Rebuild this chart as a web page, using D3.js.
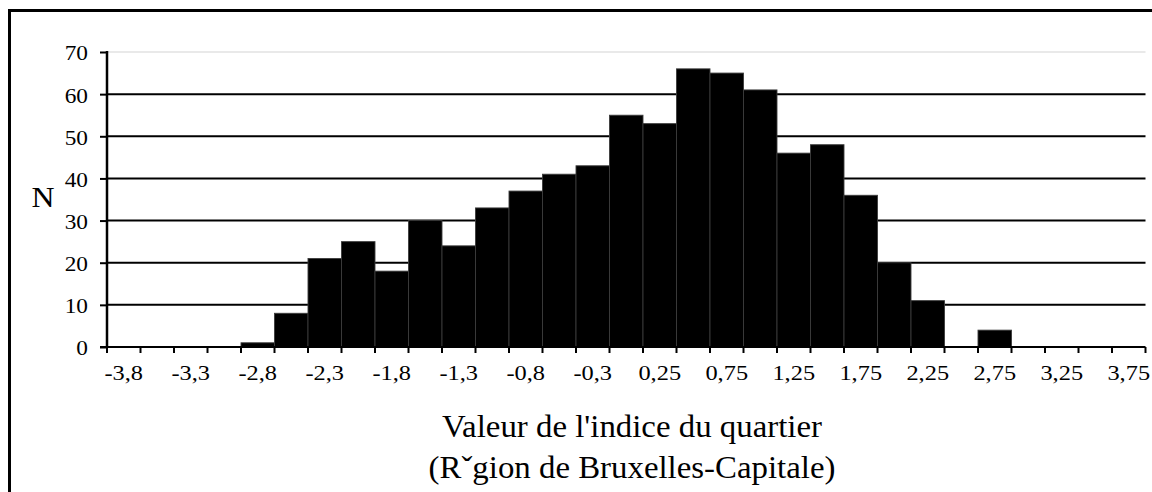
<!DOCTYPE html>
<html>
<head>
<meta charset="utf-8">
<script src="https://cdn.jsdelivr.net/npm/d3@7"></script>
<style>
  html, body { margin: 0; padding: 0; background: #fff; }
  svg { display: block; }
  text { font-family: "Liberation Serif", "Times New Roman", serif; fill: #000; }
</style>
</head>
<body>
<svg id="chart" width="1152" height="492"></svg>
<script>
// Bin labels (every other one displayed on the axis)
const categories = [
  "-3,8", "-3,55", "-3,3", "-3,05", "-2,8", "-2,55", "-2,3", "-2,05",
  "-1,8", "-1,55", "-1,3", "-1,05", "-0,8", "-0,55", "-0,3", "-0,05",
  "0,25", "0,5", "0,75", "1", "1,25", "1,5", "1,75", "2",
  "2,25", "2,5", "2,75", "3", "3,25", "3,5", "3,75"
];
// Counts per bin (N)
const counts = [
  0, 0, 0, 0, 1, 8, 21, 25,
  18, 30, 24, 33, 37, 41, 43, 55,
  53, 66, 65, 61, 46, 48, 36, 20,
  11, 0, 4, 0, 0, 0, 0
];
const yTicks = [0, 10, 20, 30, 40, 50, 60, 70];
const yTitle = "N";
const xTitleLines = ["Valeur de l'indice du quartier", "(R\u02C7gion de Bruxelles-Capitale)"];

(function () {
const svg = d3.select("#chart");
const pLeft = 107, pRight = 1145.5, pTop = 52, pBottom = 347;

const x = d3.scaleBand().domain(categories).range([pLeft, pRight]).padding(0);
const y = d3.scaleLinear().domain([0, 70]).range([pBottom, pTop]);

// outer frame (only left/top visible in view)
svg.append("rect")
  .attr("x", 9.5).attr("y", 10.5)
  .attr("width", 1200).attr("height", 600)
  .attr("fill", "none").attr("stroke", "#000").attr("stroke-width", 3);

// gridlines
svg.append("g").selectAll("line")
  .data(yTicks.filter(d => d > 0))
  .join("line")
  .attr("x1", pLeft).attr("x2", pRight)
  .attr("y1", d => y(d)).attr("y2", d => y(d))
  .attr("stroke", d => d === 70 ? "#d4d4d4" : "#000")
  .attr("stroke-width", d => d === 70 ? 1.2 : 2);

// bars
svg.append("g").selectAll("rect")
  .data(counts.map((v, i) => ({ c: categories[i], v })).filter(d => d.v > 0))
  .join("rect")
  .attr("x", d => x(d.c))
  .attr("width", x.bandwidth())
  .attr("y", d => y(d.v))
  .attr("height", d => y(0) - y(d.v))
  .attr("fill", "#000")
  .attr("stroke", "#3c3c3c")
  .attr("stroke-width", 0.9);

// y axis
const yAxis = d3.axisLeft(y).tickValues(yTicks).tickSize(7).tickPadding(0);
const gy = svg.append("g").attr("transform", `translate(${pLeft},0)`).call(yAxis);
gy.select(".domain").remove();
gy.selectAll(".tick line").attr("stroke", "#000").attr("stroke-width", 2);
gy.selectAll(".tick text")
  .style("font-size", "22px")
  .attr("x", 0).attr("dy", "0.36em")
  .attr("transform", "translate(-19,0) scale(1.06,1)");
svg.append("line")
  .attr("x1", pLeft).attr("x2", pLeft)
  .attr("y1", pTop - 1).attr("y2", pBottom + 1)
  .attr("stroke", "#000").attr("stroke-width", 2.5);

// x axis
const xAxis = d3.axisBottom(x)
  .tickFormat((d, i) => i % 2 === 0 ? d : "")
  .tickSize(0).tickPadding(18);
const gx = svg.append("g").attr("transform", `translate(0,${pBottom})`).call(xAxis);
gx.select(".domain").remove();
gx.selectAll(".tick text")
  .style("font-size", "21px")
  .attr("dy", "0.71em")
  .attr("transform", "scale(1.16,1)");
// boundary ticks
const bounds = categories.map(c => x(c)).concat([pRight]);
svg.append("g").selectAll("line")
  .data(bounds)
  .join("line")
  .attr("x1", d => d).attr("x2", d => d)
  .attr("y1", pBottom).attr("y2", pBottom + 6)
  .attr("stroke", "#000").attr("stroke-width", 2);
svg.append("line")
  .attr("x1", pLeft - 7).attr("x2", pRight)
  .attr("y1", pBottom).attr("y2", pBottom)
  .attr("stroke", "#000").attr("stroke-width", 2);

// y title
svg.append("text")
  .attr("transform", "translate(43,207) scale(1.1,1)")
  .attr("text-anchor", "middle")
  .style("font-size", "29px")
  .text(yTitle);

// x title
svg.append("g").selectAll("text")
  .data(xTitleLines)
  .join("text")
  .attr("transform", (d, i) => `translate(632,${437 + i * 41}) scale(1.06,1)`)
  .attr("text-anchor", "middle")
  .style("font-size", "31px")
  .text(d => d);
})();
</script>
</body>
</html>
